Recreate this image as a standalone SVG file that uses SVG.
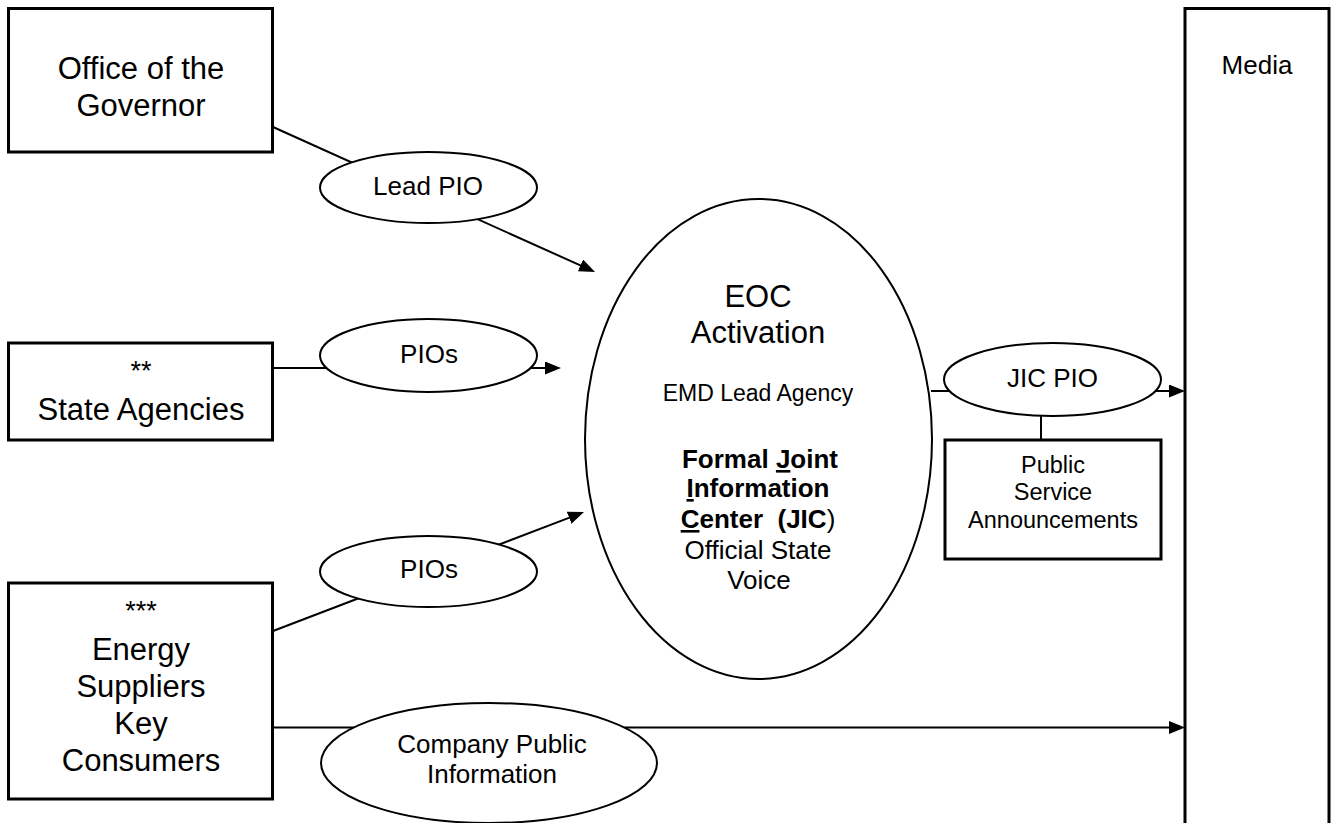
<svg xmlns="http://www.w3.org/2000/svg" width="1335" height="823" viewBox="0 0 1335 823">
<defs>
<marker id="arr" viewBox="0 0 16 13" refX="6" refY="6.5" markerWidth="16" markerHeight="13" markerUnits="userSpaceOnUse" orient="auto"><path d="M0,0 L16,6.5 L0,13 Z" fill="#000"/></marker>
<style>
text{font-family:"Liberation Sans",Arial,sans-serif;fill:#000;text-anchor:middle}
.big{font-size:31px}
.sm{font-size:26px}
.box{fill:#fff;stroke:#000;stroke-width:3}
.ell{fill:#fff;stroke:#000;stroke-width:2}
.conn{fill:none;stroke:#000;stroke-width:2}
.b{font-weight:bold}
.u{text-decoration:underline}
</style>
</defs>
<rect width="1335" height="823" fill="#fff"/>
<g id="connectors">
<path class="conn" d="M273,127 L585.9,267.9" marker-end="url(#arr)"/>
<path class="conn" d="M273,368 L551,368" marker-end="url(#arr)"/>
<path class="conn" d="M273,631 L574.7,515.6" marker-end="url(#arr)"/>
<path class="conn" d="M273,727.5 L1175,727.5" marker-end="url(#arr)"/>
<path class="conn" d="M931,391 L1175,391" marker-end="url(#arr)"/>
<path class="conn" d="M1041,416 L1041,440"/>
</g>
<g id="office">
<rect class="box" x="8.5" y="8.5" width="264" height="143.5"/>
<text class="big" x="141" y="79">Office of the</text>
<text class="big" x="141" y="116">Governor</text>
</g>
<g id="lead-pio">
<ellipse class="ell" cx="428.5" cy="187.5" rx="108.5" ry="35.5"/>
<text class="sm" x="428" y="195">Lead PIO</text>
</g>
<g id="state-agencies">
<rect class="box" x="8.5" y="343" width="264" height="97"/>
<text x="141" y="380" style="font-size:27px">**</text>
<text class="big" x="141" y="420">State Agencies</text>
</g>
<g id="pios-state">
<ellipse class="ell" cx="428.5" cy="355.5" rx="108.5" ry="36.5"/>
<text class="sm" x="429" y="363">PIOs</text>
</g>
<g id="energy">
<rect class="box" x="8.5" y="583" width="264" height="216"/>
<text x="141" y="620" style="font-size:27px">***</text>
<text class="big" x="141" y="660">Energy</text>
<text class="big" x="141" y="697">Suppliers</text>
<text class="big" x="141" y="734">Key</text>
<text class="big" x="141" y="771">Consumers</text>
</g>
<g id="pios-energy">
<ellipse class="ell" cx="428.5" cy="571.5" rx="108.5" ry="35.5"/>
<text class="sm" x="429" y="578">PIOs</text>
</g>
<g id="company">
<ellipse class="ell" cx="489" cy="763" rx="168" ry="60"/>
<text class="sm" x="492" y="753">Company Public</text>
<text class="sm" x="492" y="783">Information</text>
</g>
<g id="eoc">
<ellipse class="ell" cx="758.5" cy="439" rx="173.5" ry="240"/>
<text class="big" x="758" y="307">EOC</text>
<text class="big" x="758" y="343">Activation</text>
<text x="758" y="401" style="font-size:23px">EMD Lead Agency</text>
<text class="sm b" x="760" y="468">Formal <tspan class="u">J</tspan>oint</text>
<text class="sm b" x="758" y="497"><tspan class="u">I</tspan>nformation</text>
<text class="sm" x="758" y="528"><tspan class="b u">C</tspan><tspan class="b">enter&#160; (JIC</tspan>)</text>
<text class="sm" x="758" y="559">Official State</text>
<text class="sm" x="759" y="589">Voice</text>
</g>
<g id="jic-pio">
<ellipse class="ell" cx="1052.5" cy="379.5" rx="108.5" ry="36.5"/>
<text class="sm" x="1052.5" y="387">JIC PIO</text>
</g>
<g id="psa">
<rect class="box" x="945" y="440" width="216" height="119"/>
<text x="1053" y="473" style="font-size:23.5px">Public</text>
<text x="1053" y="500" style="font-size:23.5px">Service</text>
<text x="1053" y="528" style="font-size:23.5px">Announcements</text>
</g>
<g id="media">
<rect class="box" x="1185" y="8.5" width="144" height="830"/>
<text class="sm" x="1257" y="74">Media</text>
</g>
</svg>
